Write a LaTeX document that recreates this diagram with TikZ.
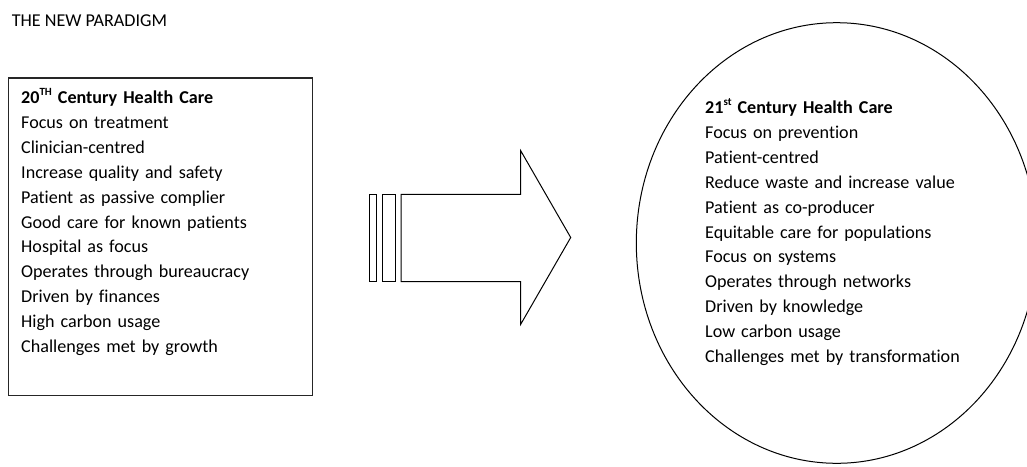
\documentclass[tikz,border=0pt]{standalone}
\usepackage{fontspec}
\setmainfont{Carlito}[Ligatures=NoCommon]
\usetikzlibrary{shapes.geometric}
\newcommand{\mysup}[1]{\raisebox{0.42em}{\fontsize{11}{11}\selectfont #1}}
\begin{document}
\begin{tikzpicture}[x=1pt,y=-1pt,line join=miter,
  body/.style={anchor=base west,inner sep=0pt,text width=330pt,align=left,
    font=\fontsize{18.1}{24.94}\selectfont},
  outline/.style={draw=black,line width=1pt}]
\useasboundingbox (0,0) rectangle (1027,466);
\clip (0,0) rectangle (1027,466);
\node[anchor=base west,inner sep=0pt,font=\fontsize{18.1}{22}\selectfont] (title) at (11.7,26) {THE NEW PARADIGM};
% left box
\node[outline,line width=1.2pt,draw=black!85,minimum width=303.7pt,minimum height=317.7pt,anchor=north west,inner sep=0pt] (box20) at (8,77.3) {};
\node[body] (text20) at (21,103.3) {\textbf{20\mysup{TH} Century Health Care}\\
Focus on treatment\\
Clinician-centred\\
Increase quality and safety\\
Patient as passive complier\\
Good care for known patients\\
Hospital as focus\\
Operates through bureaucracy\\
Driven by finances\\
High carbon usage\\
Challenges met by growth};
% arrow
\draw[outline] (369.3,194.3) rectangle (376,281.7);
\draw[outline] (382.3,194.3) rectangle (395,281.7);
\draw[outline] (401,194.3) -- (520.7,194.3) -- (520.7,150.7) -- (570.7,237.5)
  -- (520.7,324.3) -- (520.7,281.7) -- (401,281.7) -- cycle;
% right ellipse
\node[ellipse,outline,minimum width=400.8pt,minimum height=440.6pt,inner sep=0pt] (oval21) at (836.7,243) {};
\node[body] (text21) at (705,113.3) {\textbf{21\mysup{st} Century Health Care}\\
Focus on prevention\\
Patient-centred\\
Reduce waste and increase value\\
Patient as co-producer\\
Equitable care for populations\\
Focus on systems\\
Operates through networks\\
Driven by knowledge\\
Low carbon usage\\
Challenges met by transformation};
\end{tikzpicture}
\end{document}
